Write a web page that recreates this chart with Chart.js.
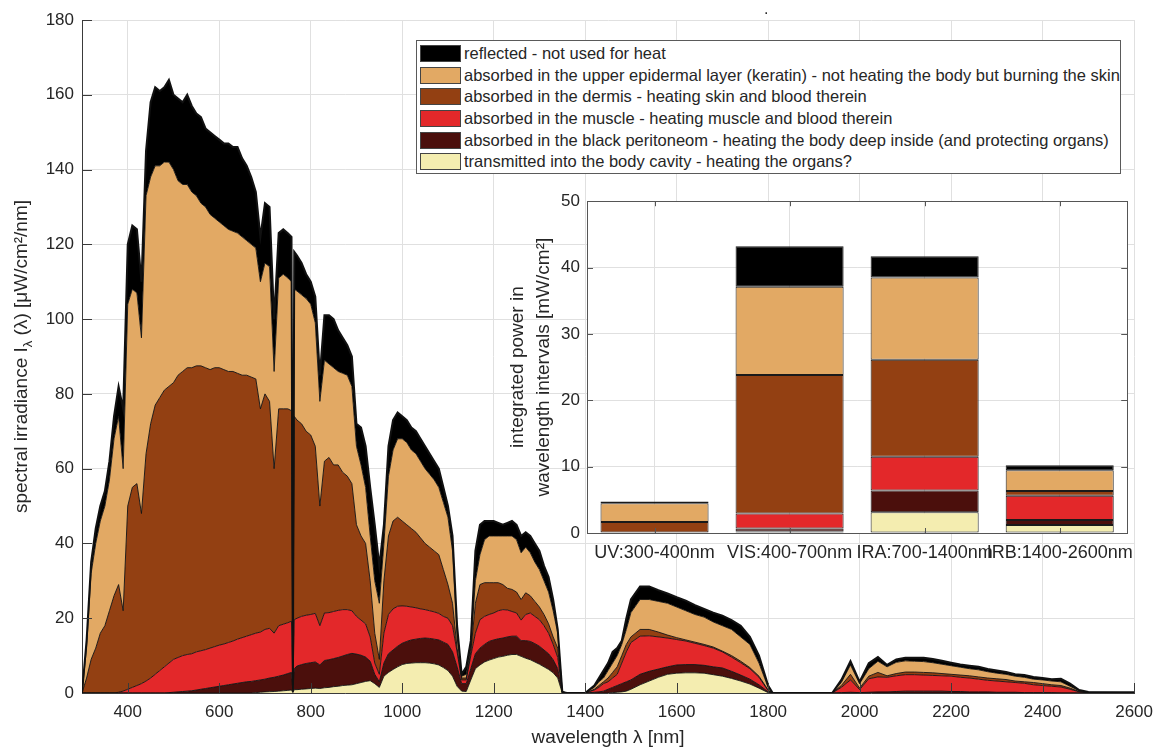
<!DOCTYPE html>
<html>
<head>
<meta charset="utf-8">
<script src="https://cdn.jsdelivr.net/npm/chart.js@4/dist/chart.umd.min.js"></script>
<style>
	body { margin: 0; background: #fff; }
	#wrap { position: relative; width: 1162px; height: 747px; font-family: "Liberation Sans", Arial, sans-serif; color: #262626; }
	#main { position: absolute; left: 0; top: 0; }
	#inset { position: absolute; left: 498px; top: 184px; }
	#legend { position: absolute; left: 416px; top: 40px; width: 705px; height: 134px; box-sizing: border-box; border: 1px solid #5a5a5a; background: #fff; padding-top: 2px; }
	.row { height: 21.6px; display: flex; align-items: center; font-size: 16.5px; white-space: nowrap; }
	.sw { width: 41px; height: 17px; margin: 0 3px 0 3px; box-sizing: border-box; border: 1px solid #444; flex: none; }
	#dot { position: absolute; left: 764px; top: 0px; font-size: 16px; }
</style>
</head>
<body>
<div id="wrap">
	<canvas id="main" width="1162" height="747"></canvas>
	<div id="dot">.</div>
	<div id="legend"></div>
	<canvas id="inset" width="645" height="390"></canvas>
</div>
<script>
// DATA =====================================================

// wavelength samples [nm]
const wavelength = [
	300, 310, 320, 330, 340, 350, 360, 370, 380, 390,
	400, 410, 420, 430, 440, 450, 460, 470, 480, 490,
	500, 510, 520, 530, 540, 550, 560, 570, 580, 590,
	600, 610, 620, 630, 640, 650, 660, 670, 680, 690,
	700, 710, 720, 730, 740, 750, 758, 761, 764, 770,
	780, 790, 800, 810, 820, 830, 840, 850, 860, 870,
	880, 890, 900, 910, 920, 930, 940, 950, 960, 970,
	980, 990, 1000, 1010, 1020, 1030, 1040, 1050, 1060, 1070,
	1080, 1090, 1100, 1110, 1120, 1130, 1140, 1150, 1160, 1170,
	1180, 1190, 1200, 1210, 1220, 1230, 1240, 1250, 1260, 1270,
	1280, 1290, 1300, 1310, 1320, 1330, 1340, 1350, 1360, 1400,
	1410, 1420, 1430, 1440, 1450, 1460, 1470, 1480, 1490, 1500,
	1520, 1540, 1560, 1580, 1600, 1620, 1640, 1660, 1680, 1700,
	1720, 1740, 1760, 1780, 1800, 1810, 1940, 1960, 1980, 2000,
	2020, 2040, 2060, 2080, 2100, 2120, 2140, 2160, 2180, 2200,
	2220, 2240, 2260, 2280, 2300, 2320, 2340, 2360, 2380, 2400,
	2420, 2440, 2460, 2480, 2500, 2600,
];

// upper edge of each stacked layer [µW/cm²/nm]
const topTransmitted = [
	0, 0, 0, 0, 0, 0, 0, 0, 0, 0,
	0, 0, 0, 0, 0, 0, 0, 0, 0, 0,
	0, 0, 0, 0, 0, 0, 0, 0, 0, 0,
	0, 0, 0, 0, 0, 0, 0, 0, 0.1, 0.2,
	0.3, 0.35, 0.4, 0.5, 0.6, 0.7, 0.8, 0.1, 0.9, 0.9,
	1, 1.1, 1.2, 1.3, 1.2, 1.4, 1.5, 1.7, 1.8, 2,
	2.1, 2.2, 2.5, 2.8, 3.1, 3.3, 2.5, 1.5, 4.5, 5.5,
	6.3, 7, 7.6, 7.9, 8, 8.1, 8.1, 8.1, 8, 7.8,
	7.5, 6.8, 6, 4.5, 1.8, 0.5, 0.4, 3.5, 6.5, 7.5,
	8.3, 8.8, 9.2, 9.6, 9.8, 10.1, 10.3, 10.3, 9.8, 9.3,
	8.9, 8.3, 7.7, 7, 6.3, 5.4, 4, 0, 0, 0,
	0, 0, 0, 0, 0, 0.1, 0.2, 0.3, 0.5, 1,
	2.2, 3.2, 4.2, 5, 5.3, 5.4, 5.4, 5.3, 4.9, 4.5,
	3.9, 3.2, 2.4, 1.3, 0.1, 0, 0, 0, 0, 0,
	0, 0, 0, 0, 0, 0, 0, 0, 0, 0,
	0, 0, 0, 0, 0, 0, 0, 0, 0, 0,
	0, 0, 0, 0, 0, 0,
];
const topPeritoneum = [
	0, 0, 0, 0, 0, 0, 0, 0, 0, 0,
	0, 0, 0, 0, 0, 0, 0, 0, 0, 0.1,
	0.2, 0.3, 0.4, 0.5, 0.6, 0.8, 1, 1.2, 1.4, 1.6,
	1.8, 2, 2.2, 2.4, 2.6, 2.8, 3, 3.1, 3.3, 3.5,
	3.7, 4, 4.2, 4.5, 4.8, 5.2, 5.5, 0.3, 6.5, 7.2,
	7.6, 7.9, 8.1, 8.3, 7.5, 8.7, 8.9, 9.2, 9.5, 9.9,
	10.3, 10.6, 10.4, 10.1, 9.6, 8.5, 5, 3, 8, 10.5,
	11.5, 12.5, 13.3, 13.8, 14.2, 14.4, 14.6, 14.7, 14.6, 14.4,
	14.2, 13.6, 13, 11, 7, 2.5, 2.5, 6.5, 10.5, 12,
	13, 13.8, 14.2, 14.5, 14.7, 15, 15.2, 15.2, 14, 14,
	13.8, 13.2, 12.5, 11.5, 10.5, 8.9, 6.5, 0.1, 0, 0,
	0.1, 0.2, 0.3, 0.5, 1, 1.5, 2, 2.5, 3, 3.5,
	5, 5.8, 6.4, 7, 7.5, 7.6, 7.6, 7.4, 7, 6.7,
	5.8, 4.8, 3.7, 2.2, 0.3, 0, 0, 0.1, 0.2, 0.1,
	0.2, 0.3, 0.3, 0.4, 0.5, 0.5, 0.5, 0.5, 0.5, 0.4,
	0.4, 0.3, 0.3, 0.3, 0.2, 0.2, 0.2, 0.1, 0.1, 0.1,
	0.1, 0, 0, 0, 0, 0,
];
const topMuscle = [
	0, 0, 0, 0, 0, 0, 0, 0, 0.2, 0.5,
	1, 1.5, 2, 2.5, 3.2, 4, 5, 6, 7, 8,
	9, 9.5, 10, 10.3, 10.5, 11, 11.3, 11.6, 12, 12.4,
	12.8, 13.1, 13.5, 13.9, 14.4, 14.8, 15.2, 15.6, 16, 16.3,
	17, 17.3, 16, 18, 18.4, 18.8, 19.2, 0.6, 19.6, 20,
	20.5, 20.8, 21, 21.3, 18, 21.4, 21.5, 21.8, 22.1, 22.3,
	22.3, 22, 20.5, 19.5, 18.5, 15, 8, 5, 16, 21,
	22.5, 23.2, 23.3, 23.2, 23, 22.8, 22.5, 22.3, 22, 21.7,
	21.3, 20.5, 20, 18, 11, 3.5, 3.5, 10, 16, 19.6,
	20.5, 21, 21.4, 22, 22.3, 22.2, 21.8, 21.4, 19.5, 21,
	21.4, 20.5, 19.6, 18, 16, 13, 9.5, 0.2, 0, 0,
	0.4, 0.8, 1.5, 2.5, 3, 4, 5, 8, 11, 13.5,
	15.2, 15.3, 15, 14.7, 14.3, 13.9, 13.3, 12.7, 12, 11,
	9.6, 8.1, 6.5, 4.2, 0.6, 0, 0, 1.5, 3.5, 0.9,
	3.8, 4.3, 4.2, 4.6, 4.9, 4.9, 4.8, 4.7, 4.6, 4.5,
	4.2, 4, 3.7, 3.4, 3.2, 3, 2.8, 2.6, 2.2, 2,
	1.8, 1.6, 1, 0.3, 0.05, 0,
];
const topDermis = [
	0, 4, 9, 12, 16, 18, 22, 26, 29, 22,
	50, 55, 56, 48, 64, 72, 77, 79, 81, 82,
	83, 85, 86, 87, 87, 87.5, 87.5, 87, 86.5, 87,
	87, 86.5, 86, 86, 85.5, 85, 85, 84.5, 84, 76,
	80, 78, 60, 76, 76, 76, 75.5, 1, 74, 73,
	72, 70, 69, 66, 50, 62, 63, 61, 61, 59,
	58, 56, 45, 42, 40, 30, 16, 9, 30, 42,
	46, 47, 46, 45, 44, 43, 41.5, 40, 39, 38,
	37, 33, 29, 24, 12, 4, 4, 11, 24, 29,
	29.5, 29.5, 29.5, 29.5, 29, 28, 27.7, 27, 25, 26.8,
	26, 24.5, 23, 21, 18.5, 15, 12, 0.3, 0, 0,
	0.5, 1, 2, 3, 4, 5.5, 7, 10, 13, 15,
	17, 17, 16.3, 15.5, 14.8, 14.2, 13.6, 13, 12.3, 11.2,
	10, 8.5, 6.8, 4.5, 0.8, 0, 0, 2, 5, 1.3,
	4.5, 5.5, 4.6, 5.2, 5.6, 5.6, 5.5, 5.4, 5.2, 5,
	4.8, 4.6, 4.3, 4, 3.8, 3.6, 3.2, 3, 2.8, 2.5,
	2.2, 2, 1.3, 0.4, 0.1, 0,
];
const topEpidermis = [
	0, 12, 32, 40, 46, 50, 57, 68, 74, 60,
	104, 108, 107, 95, 133, 138, 141, 141, 142, 142,
	140, 137, 136, 136, 134, 133, 131, 130, 128, 127,
	126, 125, 124, 123.5, 123, 122, 121, 120, 119, 110,
	115, 114, 86, 111, 112, 111, 110, 1.5, 108, 107.5,
	106.5, 105.5, 104, 99, 78, 89, 88, 87, 86, 85.5,
	85, 82, 66, 61, 55, 42, 30, 24, 40, 58,
	65, 68, 68, 67, 65, 64, 62, 60, 58.5, 57,
	55, 51, 47, 38, 15, 4.5, 5, 12, 30, 37,
	41, 42, 42, 42, 42, 42, 42, 41, 37.5, 39,
	37.5, 35, 33, 30, 27, 22, 16, 0.4, 0, 0,
	0.8, 1.5, 3, 4, 6, 8, 10, 13, 17, 21.5,
	25, 25, 24.5, 24, 23, 22, 21, 20.3, 19, 18,
	17, 15, 13, 8, 1.5, 0, 0, 2.8, 7.5, 2.5,
	6.5, 8.5, 7, 8.2, 8.6, 8.5, 8.4, 8.1, 7.7, 7.3,
	6.9, 6.5, 6.2, 5.7, 5.3, 5, 4.5, 4.2, 3.7, 3.5,
	3.2, 3, 1.8, 0.6, 0.2, 0.1,
];
const totalIrradiance = [
	0, 14, 35, 44, 50, 54, 62, 74, 82, 76,
	120, 125, 124, 110, 145, 158, 162, 161, 162, 164,
	160, 159, 158, 160, 157, 155, 154, 151, 150, 149,
	148, 147, 147, 146, 146, 143, 141, 138, 134, 122,
	131, 130, 100, 123, 124, 123, 122, 2, 118, 117,
	115, 112, 110, 106, 85, 101, 101, 100, 97, 95,
	93, 90, 72, 71, 66, 55, 45, 34, 45, 66,
	73, 75, 74, 73, 71, 70, 68, 66, 64, 62,
	60, 55, 50, 42, 18, 5, 7, 14, 38, 45,
	46, 46, 46, 45.5, 45, 45.5, 46, 45, 42, 43,
	42, 40, 38, 34, 31, 25, 17, 0.3, 0, 0,
	1, 2, 4, 6, 8, 11, 12, 14, 20, 25,
	28.5, 28.5, 27.5, 26.6, 25.6, 24.7, 23.5, 22.5, 21.5, 20.7,
	19.5, 18, 15, 10, 2, 0, 0, 3.5, 8.5, 3,
	8, 9.6, 7.5, 9, 9.4, 9.4, 9.4, 9.1, 8.6, 8.1,
	7.6, 7.3, 7, 6.4, 6, 5.6, 5, 4.8, 4.3, 4,
	3.7, 3.8, 2.5, 0.8, 0.3, 0.2,
];

const xTicks = [400, 600, 800, 1000, 1200, 1400, 1600, 1800, 2000, 2200, 2400, 2600];
const yTicks = [0, 20, 40, 60, 80, 100, 120, 140, 160, 180];

// inset: integrated power per interval [mW/cm²], per layer
const insetCategories = ["UV:300-400nm", "VIS:400-700nm", "IRA:700-1400nm", "IRB:1400-2600nm"];
const insetTransmitted = [0, 0.24, 3.14, 1.22];
const insetPeritoneum = [0, 0.44, 3.26, 0.74];
const insetMuscle = [0, 2.27, 5.1, 3.64];
const insetDermis = [1.67, 20.85, 14.6, 0.74];
const insetEpidermis = [2.8, 13.3, 12.4, 3.1];
const insetReflected = [0.29, 6.1, 3.2, 0.76];
const insetTicks = [0, 10, 20, 30, 40, 50];

// legend text, top to bottom
const legendLabels = [
	"reflected - not used for heat",
	"absorbed in the upper epidermal layer (keratin) - not heating the body but burning the skin",
	"absorbed in the dermis - heating skin and blood therein",
	"absorbed in the muscle - heating muscle and blood therein",
	"absorbed in the black peritoneom - heating the body deep inside (and protecting organs)",
	"transmitted into the body cavity - heating the organs?",
];

// STYLE ====================================================

const FONT = "'Liberation Sans', Arial, Helvetica, sans-serif";
const TEXT = "#262626";
const GRID = "#e0e0e0";
const legendColours = ["#000000", "#e2a964", "#934012", "#e3282a", "#4b0f0c", "#f4edb0"];

Chart.defaults.font.family = FONT;
Chart.defaults.color = TEXT;

// FUNCTIONS ================================================

const toPoints = function (values) {
	return values.map((v, i) => ({ x: wavelength[i], y: v }));
};

// MATLAB-like inward tick marks, axis titles
const mainDecor = {
	id: "mainDecor",
	afterDraw(chart) {
		const ctx = chart.ctx;
		const a = chart.chartArea;
		const xs = chart.scales.x;
		const ys = chart.scales.y;
		ctx.save();
		ctx.strokeStyle = "#3a3a3a";
		ctx.lineWidth = 1;
		ctx.beginPath();
		xTicks.forEach((v) => {
			const px = Math.round(xs.getPixelForValue(v)) + 0.5;
			ctx.moveTo(px, a.bottom);
			ctx.lineTo(px, a.bottom - 10);
		});
		yTicks.forEach((v) => {
			const py = Math.round(ys.getPixelForValue(v)) + 0.5;
			ctx.moveTo(a.left, py);
			ctx.lineTo(a.left + 10, py);
		});
		ctx.stroke();

		ctx.fillStyle = TEXT;
		ctx.textAlign = "center";
		ctx.textBaseline = "middle";
		ctx.font = "19px " + FONT;
		ctx.fillText("wavelength λ [nm]", (a.left + a.right) / 2, chart.height - 9);

		// y title with subscript lambda
		ctx.translate(22, (a.top + a.bottom) / 2);
		ctx.rotate(-Math.PI / 2);
		const p1 = "spectral irradiance I";
		const p2 = "λ";
		const p3 = " (λ) [μW/cm²/nm]";
		ctx.font = "19px " + FONT;
		const w1 = ctx.measureText(p1).width;
		const w3 = ctx.measureText(p3).width;
		ctx.font = "13px " + FONT;
		const w2 = ctx.measureText(p2).width;
		let x0 = -(w1 + w2 + w3) / 2;
		ctx.textAlign = "left";
		ctx.font = "19px " + FONT;
		ctx.fillText(p1, x0, 0);
		ctx.font = "13px " + FONT;
		ctx.fillText(p2, x0 + w1, 6);
		ctx.font = "19px " + FONT;
		ctx.fillText(p3, x0 + w1 + w2, 0);
		ctx.restore();
	},
};

// white plot background, box, inward ticks, two-line y title
const insetDecor = {
	id: "insetDecor",
	beforeDraw(chart) {
		const a = chart.chartArea;
		chart.ctx.save();
		chart.ctx.fillStyle = "#fff";
		chart.ctx.fillRect(a.left, a.top, a.right - a.left, a.bottom - a.top);
		chart.ctx.restore();
	},
	afterDraw(chart) {
		const ctx = chart.ctx;
		const a = chart.chartArea;
		const xs = chart.scales.x;
		const ys = chart.scales.y;
		ctx.save();
		ctx.strokeStyle = "#555";
		ctx.lineWidth = 1;
		ctx.strokeRect(Math.round(a.left) + 0.5, Math.round(a.top) + 0.5, Math.round(a.right - a.left), Math.round(a.bottom - a.top));
		ctx.beginPath();
		insetCategories.forEach((c, i) => {
			const px = Math.round(xs.getPixelForValue(i)) + 0.5;
			ctx.moveTo(px, a.top);
			ctx.lineTo(px, a.top + 5);
			ctx.moveTo(px, a.bottom);
			ctx.lineTo(px, a.bottom - 5);
		});
		insetTicks.forEach((v) => {
			const py = Math.round(ys.getPixelForValue(v)) + 0.5;
			ctx.moveTo(a.left, py);
			ctx.lineTo(a.left + 6, py);
			ctx.moveTo(a.right, py);
			ctx.lineTo(a.right - 6, py);
		});
		ctx.stroke();

		ctx.fillStyle = TEXT;
		ctx.font = "19px " + FONT;
		ctx.textAlign = "center";
		ctx.textBaseline = "middle";
		const cy = (a.top + a.bottom) / 2;
		[["integrated power in", 20], ["wavelength intervals [mW/cm²]", 46]].forEach(([t, x]) => {
			ctx.save();
			ctx.translate(x, cy);
			ctx.rotate(-Math.PI / 2);
			ctx.fillText(t, 0, 0);
			ctx.restore();
		});
		ctx.restore();
	},
};

const buildLegend = function () {
	const box = document.querySelector("#legend");
	legendLabels.forEach((label, i) => {
		box.insertAdjacentHTML("beforeend", `<div class="row"><div class="sw" style="background:${legendColours[i]}"></div><span>${label}</span></div>`);
	});
};

const renderMain = function () {
	// bottom to top
	const layers = [
		{ label: legendLabels[5], data: topTransmitted, colour: legendColours[5], fill: "origin" },
		{ label: legendLabels[4], data: topPeritoneum, colour: legendColours[4], fill: "-1" },
		{ label: legendLabels[3], data: topMuscle, colour: legendColours[3], fill: "-1" },
		{ label: legendLabels[2], data: topDermis, colour: legendColours[2], fill: "-1" },
		{ label: legendLabels[1], data: topEpidermis, colour: legendColours[1], fill: "-1" },
		{ label: legendLabels[0], data: totalIrradiance, colour: legendColours[0], fill: "-1" },
	];
	const datasets = layers.map((l, i) => ({
		label: l.label,
		data: toPoints(l.data),
		backgroundColor: l.colour,
		borderColor: "#111",
		borderWidth: i === 5 ? 2 : 0.9,
		fill: l.fill,
		pointRadius: 0,
		tension: 0,
	}));
	new Chart(document.getElementById("main"), {
		type: "line",
		data: { datasets: datasets },
		options: {
			responsive: false,
			animation: false,
			layout: { padding: { top: 20, right: 23, left: 0, bottom: 0 } },
			plugins: {
				legend: { display: false },
				tooltip: { enabled: false },
				filler: { drawTime: "beforeDatasetsDraw" },
			},
			scales: {
				x: {
					type: "linear",
					min: 300,
					max: 2600,
					afterBuildTicks: (s) => { s.ticks = xTicks.map((v) => ({ value: v })); },
					afterFit: (s) => { s.height = 54; },
					grid: { color: GRID, drawTicks: false },
					border: { color: "#3a3a3a" },
					ticks: { font: { size: 17 }, color: TEXT, padding: 9, maxRotation: 0, callback: (v) => String(v) },
				},
				y: {
					min: 0,
					max: 180,
					afterBuildTicks: (s) => { s.ticks = yTicks.map((v) => ({ value: v })); },
					afterFit: (s) => { s.width = 82; },
					grid: { color: GRID, drawTicks: false },
					border: { color: "#3a3a3a" },
					ticks: { font: { size: 17 }, color: TEXT, padding: 8, callback: (v) => String(v) },
				},
			},
		},
		plugins: [mainDecor],
	});
};

const renderInset = function () {
	const series = [
		[insetTransmitted, legendColours[5]],
		[insetPeritoneum, legendColours[4]],
		[insetMuscle, legendColours[3]],
		[insetDermis, legendColours[2]],
		[insetEpidermis, legendColours[1]],
		[insetReflected, legendColours[0]],
	];
	new Chart(document.getElementById("inset"), {
		type: "bar",
		data: {
			labels: insetCategories,
			datasets: series.map(([d, c]) => ({
				data: d,
				backgroundColor: c,
				borderColor: "#1a1a1a",
				borderWidth: 1,
				borderSkipped: false,
				barPercentage: 0.8,
				categoryPercentage: 1,
			})),
		},
		options: {
			responsive: false,
			animation: false,
			layout: { padding: { top: 10, right: 10, left: 0, bottom: 0 } },
			plugins: { legend: { display: false }, tooltip: { enabled: false } },
			scales: {
				x: {
					stacked: true,
					afterFit: (s) => { s.height = 41; },
					grid: { offset: false, color: GRID, drawTicks: false },
					border: { display: false },
					ticks: { autoSkip: false, maxRotation: 0, font: { size: 18 }, color: TEXT, padding: 9 },
				},
				y: {
					stacked: true,
					min: 0,
					max: 50,
					afterBuildTicks: (s) => { s.ticks = insetTicks.map((v) => ({ value: v })); },
					afterFit: (s) => { s.width = 89; },
					grid: { color: GRID, drawTicks: false },
					border: { display: false },
					ticks: { font: { size: 17 }, color: TEXT, padding: 7 },
				},
			},
		},
		plugins: [insetDecor],
	});
};

// END ======================================================

buildLegend();
renderMain();
renderInset();
</script>
</body>
</html>
